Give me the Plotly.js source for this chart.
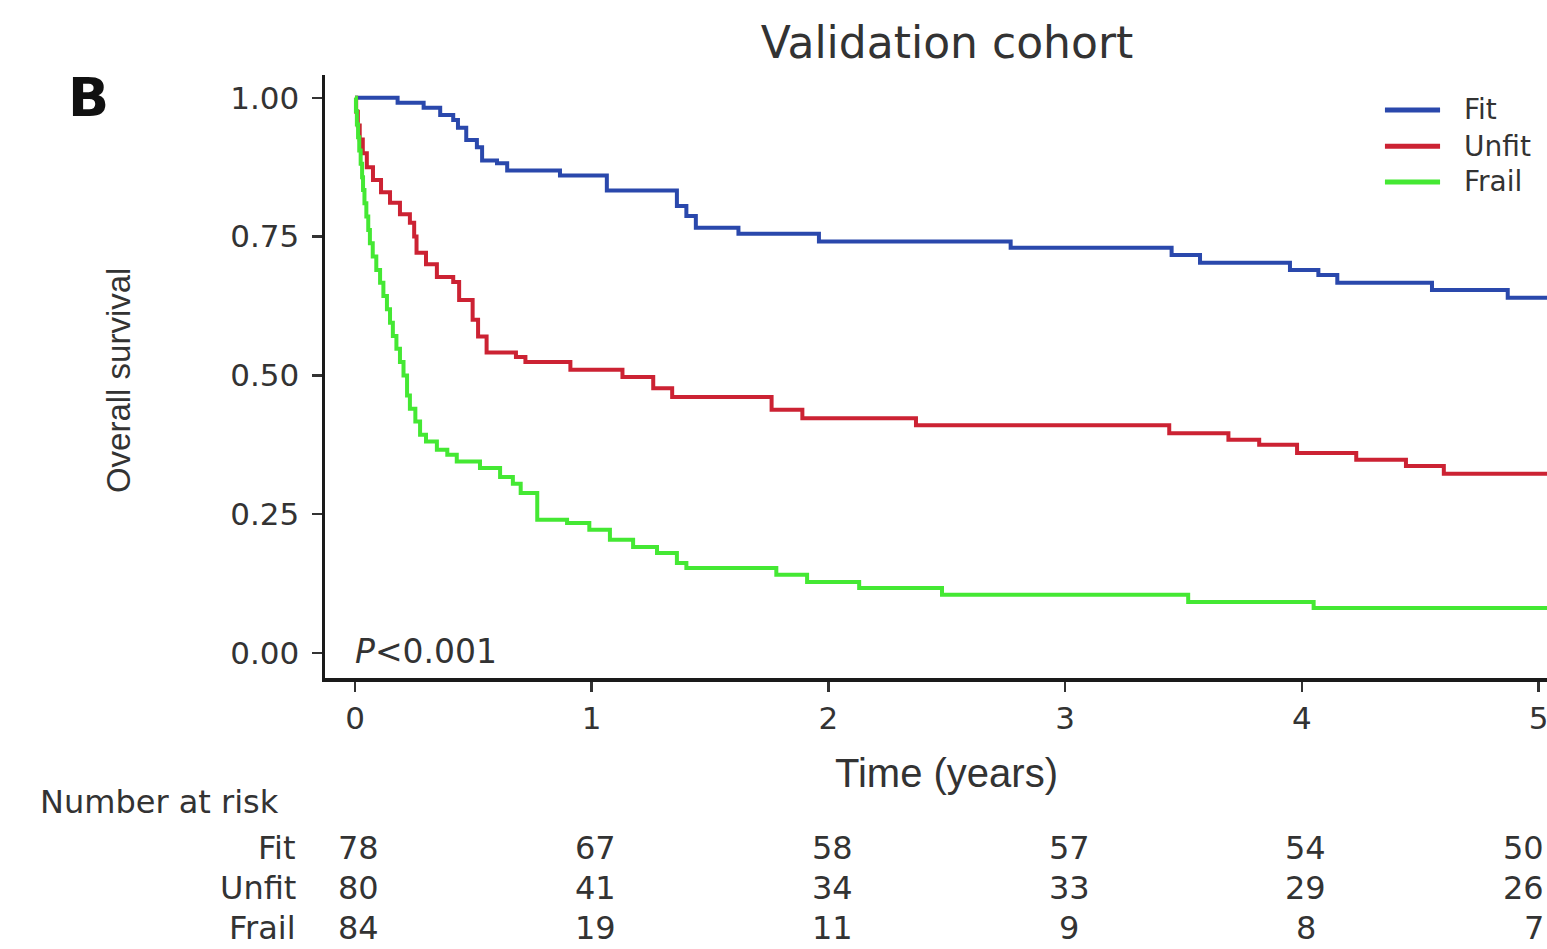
<!DOCTYPE html>
<html>
<head>
<meta charset="utf-8">
<script src="https://cdn.plot.ly/plotly-3.0.1.min.js"></script>
<style>
  html, body { margin: 0; padding: 0; overflow: hidden; background: #fff; }
  #chart { width: 1600px; height: 949px; }
</style>
</head>
<body>
<div id="chart"></div>
<script>
// ---- Data ----
const groups = ["Fit", "Unfit", "Frail"];
const groupColors = ["#2a48ac", "#cc2233", "#44e833"];

const fitTime = [0, 0.18, 0.29, 0.36, 0.415, 0.435, 0.47, 0.515, 0.537, 0.60, 0.643, 0.866, 1.064, 1.36, 1.40, 1.44, 1.62, 1.96, 2.77, 3.45, 3.57, 3.95, 4.07, 4.15, 4.55, 4.87, 5.2];
const fitSurv = [1.0, 0.991, 0.982, 0.969, 0.960, 0.946, 0.924, 0.911, 0.887, 0.882, 0.869, 0.860, 0.833, 0.805, 0.787, 0.766, 0.755, 0.741, 0.730, 0.717, 0.703, 0.690, 0.681, 0.667, 0.654, 0.640, 0.640];

const unfitTime = [0, 0.005, 0.012, 0.02, 0.033, 0.05, 0.076, 0.11, 0.148, 0.19, 0.232, 0.25, 0.26, 0.30, 0.346, 0.415, 0.44, 0.497, 0.52, 0.556, 0.68, 0.72, 0.91, 1.13, 1.26, 1.34, 1.76, 1.89, 2.37, 3.44, 3.69, 3.82, 3.98, 4.23, 4.44, 4.60, 5.2];
const unfitSurv = [1.0, 0.975, 0.95, 0.925, 0.90, 0.875, 0.852, 0.83, 0.811, 0.79, 0.775, 0.75, 0.721, 0.70, 0.677, 0.668, 0.636, 0.60, 0.57, 0.541, 0.533, 0.524, 0.510, 0.497, 0.477, 0.461, 0.438, 0.423, 0.41, 0.396, 0.384, 0.375, 0.36, 0.348, 0.337, 0.323, 0.323];

const frailTime = [0, 0.004, 0.008, 0.013, 0.018, 0.024, 0.03, 0.034, 0.04, 0.048, 0.056, 0.063, 0.075, 0.09, 0.106, 0.12, 0.135, 0.148, 0.16, 0.175, 0.19, 0.205, 0.22, 0.232, 0.255, 0.275, 0.30, 0.346, 0.39, 0.43, 0.528, 0.613, 0.667, 0.70, 0.77, 0.896, 0.99, 1.077, 1.175, 1.276, 1.36, 1.40, 1.78, 1.91, 2.13, 2.48, 3.52, 4.05, 5.2];
const frailSurv = [1.0, 0.976, 0.952, 0.929, 0.905, 0.881, 0.857, 0.834, 0.81, 0.786, 0.762, 0.738, 0.714, 0.69, 0.667, 0.643, 0.619, 0.595, 0.571, 0.548, 0.524, 0.50, 0.464, 0.44, 0.417, 0.393, 0.381, 0.366, 0.357, 0.345, 0.333, 0.317, 0.305, 0.288, 0.24, 0.234, 0.222, 0.204, 0.191, 0.18, 0.162, 0.153, 0.141, 0.128, 0.117, 0.105, 0.092, 0.081, 0.081];

const xTicks = [0, 1, 2, 3, 4, 5];
const yTicks = [0, 0.25, 0.5, 0.75, 1.0];
const yTickText = ["0.00", "0.25", "0.50", "0.75", "1.00"];

const riskTimes = [0, 1, 2, 3, 4, 5];
const riskFit = [78, 67, 58, 57, 54, 50];
const riskUnfit = [80, 41, 34, 33, 29, 26];
const riskFrail = [84, 19, 11, 9, 8, 7];

const titleText = "Validation cohort";
const panelLabel = "B";
const pText = "<i>P</i><0.001";

// ---- Build traces ----
const times = [fitTime, unfitTime, frailTime];
const survs = [fitSurv, unfitSurv, frailSurv];
const traces = groups.map((g, i) => ({
  type: "scatter",
  mode: "lines",
  name: g,
  x: times[i],
  y: survs[i],
  line: { shape: "hv", color: groupColors[i], width: 4 },
  hoverinfo: "skip",
  showlegend: false
}));

const textColor = "#333";
const wideFont = "DejaVu Sans, Verdana, sans-serif";
const narrowFont = "Liberation Sans, Arial, sans-serif";

const rowY = [-0.282, -0.348, -0.415];
const riskRows = [riskFit, riskUnfit, riskFrail];
const annotations = [];
const shapes = [];

// panel label
annotations.push({ text: "<b>" + panelLabel + "</b>", xref: "paper", yref: "paper",
  x: -0.1866, y: 0.962, xanchor: "center", yanchor: "middle", showarrow: false,
  font: { family: wideFont, size: 54, color: "#111" } });
// y axis title
annotations.push({ text: "Overall survival", xref: "paper", yref: "paper",
  x: -0.163, y: 0.494, xanchor: "center", yanchor: "middle", textangle: -90, showarrow: false,
  font: { family: narrowFont, size: 33, color: textColor } });
// x axis title
annotations.push({ text: "Time (years)", xref: "paper", yref: "paper",
  x: 0.489, y: -0.158, xanchor: "center", yanchor: "middle", showarrow: false,
  font: { family: narrowFont, size: 40, color: textColor } });
// p value
annotations.push({ text: pText, xref: "x", yref: "y",
  x: -0.01, y: 0.003, xanchor: "left", yanchor: "middle", showarrow: false,
  font: { family: wideFont, size: 33, color: textColor } });
// number at risk header
annotations.push({ text: "Number at risk", xref: "paper", yref: "paper",
  x: -0.226, y: -0.2056, xanchor: "left", yanchor: "middle", showarrow: false,
  font: { family: wideFont, size: 32, color: textColor } });
groups.forEach((g, i) => {
  annotations.push({ text: g, xref: "paper", yref: "paper",
    x: -0.0213, y: rowY[i], xanchor: "right", yanchor: "middle", showarrow: false,
    font: { family: wideFont, size: 32, color: textColor } });
  riskTimes.forEach((t, j) => {
    const last = j === riskTimes.length - 1;
    annotations.push({ text: String(riskRows[i][j]), xref: "x", yref: "paper",
      x: t, y: rowY[i], xanchor: last ? "right" : "center", yanchor: "middle",
      xshift: last ? 7 : 4, showarrow: false,
      font: { family: wideFont, size: 32, color: textColor } });
  });
});

// legend (drawn to match the reference's long key lines)
const legendY = [0.942, 0.882, 0.8226];
groups.forEach((g, i) => {
  shapes.push({ type: "line", xref: "paper", yref: "paper",
    x0: 0.8346, x1: 0.878, y0: legendY[i], y1: legendY[i],
    line: { color: groupColors[i], width: 5 } });
  annotations.push({ text: g, xref: "paper", yref: "paper",
    x: 0.8953, y: legendY[i], xanchor: "left", yanchor: "middle", showarrow: false,
    font: { family: wideFont, size: 28, color: textColor } });
});

const layout = {
  width: 1600,
  height: 949,
  margin: { l: 325, r: 5, t: 75, b: 271, pad: 0 },
  paper_bgcolor: "#fff",
  plot_bgcolor: "#fff",
  title: { text: titleText, xref: "container", x: 947 / 1600, xanchor: "center",
    yref: "container", y: 1 - 43 / 949, yanchor: "middle",
    font: { family: wideFont, size: 44, color: textColor } },
  showlegend: false,
  xaxis: {
    range: [-0.1267, 5.2387], tickvals: xTicks, ticktext: xTicks.map(String),
    showgrid: false, zeroline: false, showline: true, linewidth: 3.5, linecolor: "#1a1a1a",
    ticks: "outside", ticklen: 10, tickwidth: 2.5, tickcolor: "#333", ticklabelstandoff: 0,
    tickfont: { family: wideFont, size: 31, color: textColor }, fixedrange: true
  },
  yaxis: {
    range: [-0.045, 1.041], tickvals: yTicks, ticktext: yTickText,
    showgrid: false, zeroline: false, showline: true, linewidth: 3.5, linecolor: "#1a1a1a",
    ticks: "outside", ticklen: 10, tickwidth: 2.5, tickcolor: "#333", ticklabelstandoff: 6,
    tickfont: { family: wideFont, size: 31, color: textColor }, fixedrange: true
  },
  shapes: shapes,
  annotations: annotations
};

Plotly.newPlot("chart", traces, layout, { displayModeBar: false, staticPlot: true });
</script>
</body>
</html>
